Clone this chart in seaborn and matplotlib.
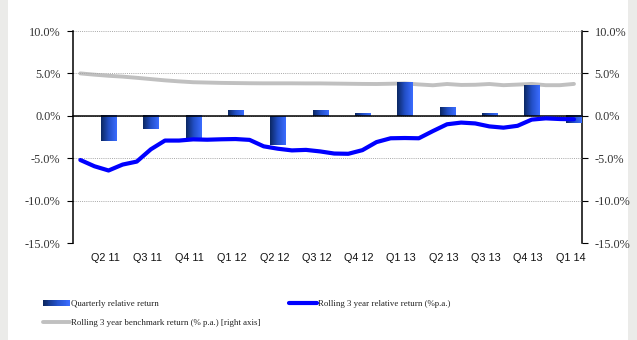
import numpy as np
import matplotlib
matplotlib.use("Agg")
import matplotlib.pyplot as plt
import seaborn as sns
from matplotlib.colors import LinearSegmentedColormap
from matplotlib.legend_handler import HandlerBase
from matplotlib.patches import Rectangle
from matplotlib.lines import Line2D
from matplotlib.ticker import FuncFormatter

# ---- data -------------------------------------------------------------
quarters = ["Q2 11", "Q3 11", "Q4 11", "Q1 12", "Q2 12", "Q3 12",
            "Q4 12", "Q1 13", "Q2 13", "Q3 13", "Q4 13", "Q1 14"]
quarterly_relative = [-2.95, -1.55, -2.75, 0.70, -3.40, 0.70,
                      0.35, 3.95, 1.05, 0.25, 3.55, -0.90]

# monthly series (36 month-ends, last one = end of Q1 14)
rolling_relative = [-5.21, -5.95, -6.45, -5.75, -5.40, -3.95, -2.92, -2.92,
                    -2.78, -2.82, -2.77, -2.74, -2.84, -3.60, -3.88, -4.08,
                    -4.02, -4.20, -4.45, -4.48, -4.05, -3.10, -2.65, -2.62,
                    -2.65, -1.80, -1.00, -0.80, -0.90, -1.25, -1.40, -1.18,
                    -0.45, -0.30, -0.38, -0.41]
rolling_benchmark = [5.00, 4.85, 4.72, 4.62, 4.48, 4.33, 4.18, 4.06,
                     3.96, 3.92, 3.88, 3.86, 3.84, 3.83, 3.83, 3.83,
                     3.82, 3.82, 3.80, 3.78, 3.76, 3.75, 3.78, 3.82,
                     3.70, 3.60, 3.75, 3.64, 3.66, 3.75, 3.61, 3.68,
                     3.76, 3.61, 3.61, 3.76]

y_ticks = [-15, -10, -5, 0, 5, 10]

legend_labels = ["Quarterly relative return",
                 "Rolling 3 year benchmark return (% p.a.) [right axis]",
                 "Rolling 3 year relative return (%p.a.)"]

# ---- styling ------------------------------------------------------------
sns.set_theme(style="white")
plt.rcParams["font.family"] = ["Liberation Serif", "DejaVu Serif"]

BLUE = "#0000ff"
GREY = "#c0c0c0"
bar_cmap = LinearSegmentedColormap.from_list(
    "bar", ["#0b2762", "#2350c8", "#3a6cff"])

fig = plt.figure(figsize=(6.37, 3.40), dpi=100)
ax = fig.add_axes([73 / 637, 1 - 243 / 340, 509 / 637, 212 / 340])
ax2 = ax.twinx()
ax.set_zorder(2)
ax.patch.set_visible(False)

q_pos = np.arange(len(quarters))
m_pos = (np.arange(len(rolling_relative)) + 1) / 3 - 1

# bars
sns.barplot(x=q_pos, y=quarterly_relative, native_scale=True, width=0.355,
            color="#2a55d8", saturation=1, edgecolor="none", ax=ax, zorder=3)
grad = np.linspace(0, 1, 64).reshape(1, -1)
for p in list(ax.patches):
    x0, y0, w, h = p.get_x(), p.get_y(), p.get_width(), p.get_height()
    ax.imshow(grad, cmap=bar_cmap, aspect="auto", interpolation="bilinear",
              extent=[x0, x0 + w, min(y0, y0 + h), max(y0, y0 + h)],
              zorder=3.1)

# rolling relative return (left axis)
sns.lineplot(x=m_pos, y=rolling_relative, color=BLUE, lw=3.0, ax=ax,
             zorder=4, solid_capstyle="round")
# rolling benchmark (right axis)
sns.lineplot(x=m_pos, y=rolling_benchmark, color=GREY, lw=2.8, ax=ax2,
             solid_capstyle="round")

xlim = (-0.84, 11.19)
for a in (ax, ax2):
    a.set_xlim(*xlim)
    a.set_ylim(-15, 10)
    a.set_yticks(y_ticks)
    a.yaxis.set_major_formatter(FuncFormatter(lambda v, _: f"{v:.1f}%"))
    a.set_xlabel("")
    a.set_ylabel("")
    a.grid(False)

# dotted horizontal gridlines
ax.yaxis.grid(True, linestyle=(0, (1, 1.2)), color="#a8a8a8", lw=0.7, zorder=0)
ax.set_axisbelow(True)

# spines
for s in ("top", "right"):
    ax.spines[s].set_visible(False)
for s in ("top", "left", "bottom"):
    ax2.spines[s].set_visible(False)
ax.spines["left"].set_color("black")
ax.spines["left"].set_linewidth(1.1)
ax2.spines["right"].set_color("black")
ax2.spines["right"].set_linewidth(1.1)
ax.spines["bottom"].set_position(("data", 0))
ax.spines["bottom"].set_color("black")
ax.spines["bottom"].set_linewidth(1.1)
ax.spines["bottom"].set_zorder(3.5)

# tick marks on the zero line: quarterly first, monthly later
split = 6
qt = q_pos[:split + 1] - 0.5
mt = np.arange(1, 3 * (len(quarters) - split - 1)) / 3 + qt[-1]
ax.set_xticks(np.concatenate([qt, mt]))
ax.set_xticklabels([])
ax.tick_params(axis="x", direction="out", length=3, width=0.8,
               color="#555555", bottom=True)
ax2.set_xticks([])

# category labels under the plot area
sec = ax.secondary_xaxis(0)
sec.set_xticks(q_pos - 0.08)
sec.set_xticklabels(quarters, family=["Liberation Sans", "DejaVu Sans"],
                    fontsize=7.8, color="#111111")
sec.tick_params(length=0, pad=7)
sec.spines["bottom"].set_visible(False)

ax.tick_params(axis="y", direction="out", length=4, width=0.8, color="black",
               labelsize=8.8, labelcolor="#333333", pad=5, left=True)
ax2.tick_params(axis="y", direction="out", length=4, width=0.8, color="black",
                labelsize=8.8, labelcolor="#333333", pad=5, right=True)


# legend
class GradientHandler(HandlerBase):
    def create_artists(self, legend, orig_handle, xdescent, ydescent,
                       width, height, fontsize, trans):
        n = 30
        arts = []
        for j in range(n):
            r = Rectangle((-xdescent + j * width / n, -ydescent + height * 0.05),
                          width / n * 1.05, height * 0.9,
                          facecolor=bar_cmap(j / (n - 1)), edgecolor="none",
                          transform=trans)
            arts.append(r)
        return arts


bar_handle = Rectangle((0, 0), 1, 1)
handles = [bar_handle,
           Line2D([], [], color=GREY, lw=2.8),
           Line2D([], [], color=BLUE, lw=3.0)]
fig.legend(handles, legend_labels, ncol=2, loc="upper left",
           bbox_to_anchor=(43 / 637, 1 - 300 / 340), frameon=False,
           fontsize=6.4, handlelength=3.05, handletextpad=0.15,
           columnspacing=3.2, labelspacing=1.15, borderpad=0,
           borderaxespad=0, handler_map={bar_handle: GradientHandler()},
           labelcolor="#222222")

# pale side bands of the page
fig.add_artist(Rectangle((0, 0), 8 / 637, 1, transform=fig.transFigure,
                         facecolor="#ebebe9", edgecolor="none", zorder=-1))
fig.add_artist(Rectangle((628 / 637, 0), 9 / 637, 1, transform=fig.transFigure,
                         facecolor="#ebebe9", edgecolor="none", zorder=-1))

fig.savefig("out.png", dpi=100)
